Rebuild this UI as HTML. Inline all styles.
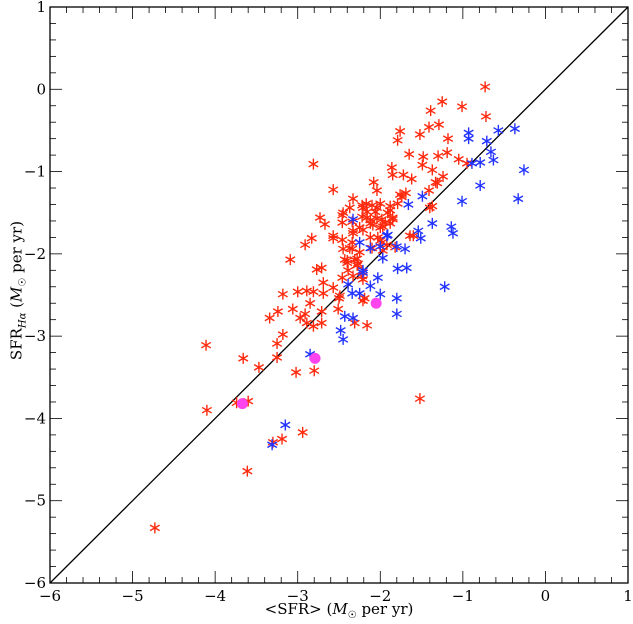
<!DOCTYPE html>
<html><head><meta charset="utf-8"><style>
html,body{margin:0;padding:0;background:#fff;}
svg{display:block;font-family:"DejaVu Serif","Liberation Serif",serif;}
</style></head><body>
<svg id="chart" width="633" height="624" viewBox="0 0 633 624" xmlns="http://www.w3.org/2000/svg"></svg>
<script>
const tickValues = [-6,-5,-4,-3,-2,-1,0,1];
const redX = [-0.73,-0.72,-1.01,-1.25,-1.39,-1.41,-1.29,-1.76,-1.79,-1.52,-1.18,-1.65,-2.81,-1.48,-1.49,-1.30,-1.19,-1.05,-0.95,-1.37,-1.24,-1.33,-1.86,-1.85,-1.72,-1.62,-2.08,-2.04,-2.57,-2.33,-1.74,-1.69,-1.79,-1.40,-1.41,-2.37,-2.21,-2.04,-1.88,-1.85,-2.73,-2.67,-2.46,-2.46,-2.16,-2.12,-1.94,-2.25,-2.33,-2.57,-2.83,-2.91,-1.60,-2.12,-3.09,-2.77,-2.71,-2.40,-2.28,-3.18,-3.00,-2.89,-2.81,-2.69,-2.57,-2.69,-2.85,-3.06,-3.24,-3.34,-2.97,-2.89,-2.81,-2.71,-2.51,-2.50,-2.19,-2.31,-2.16,-3.18,-3.25,-4.11,-3.66,-3.25,-3.47,-3.02,-2.80,-1.37,-1.31,-1.82,-2.00,-1.97,-4.10,-3.74,-3.60,-3.19,-3.30,-2.94,-3.61,-4.73,-1.52,-2.10,-2.40,-2.27,-2.46,-2.33,-2.22,-2.49,-2.21,-2.91,-2.71,-2.33,-2.10,-2.34,-2.45,-2.00,-1.88,-2.04,
 -2.22,-2.17,-2.00,-1.88,-2.16,-2.06,-1.91,-2.22,-2.12,-1.98,-1.85,-2.45,-2.34,-2.09,-1.97,-2.21,-2.57,-2.46,-2.34,-2.03,-1.98,-1.92,-1.64,-2.37,-2.25,-2.43,-2.31,-2.28,-2.39,-2.22,-2.21,-1.76];
const redY = [0.03,-0.33,-0.21,-0.15,-0.26,-0.46,-0.43,-0.51,-0.62,-0.55,-0.60,-0.79,-0.91,-0.82,-0.92,-0.81,-0.77,-0.85,-0.90,-0.98,-1.06,-1.13,-0.95,-1.04,-1.04,-1.09,-1.13,-1.23,-1.22,-1.33,-1.31,-1.26,-1.39,-1.44,-1.23,-1.44,-1.44,-1.44,-1.47,-1.56,-1.56,-1.64,-1.53,-1.62,-1.56,-1.63,-1.62,-1.68,-1.75,-1.78,-1.81,-1.89,-1.78,-1.80,-2.07,-2.19,-2.17,-2.08,-2.06,-2.49,-2.46,-2.45,-2.46,-2.35,-2.41,-2.48,-2.60,-2.67,-2.70,-2.78,-2.78,-2.84,-2.88,-2.84,-2.67,-2.54,-2.54,-2.84,-2.87,-2.98,-3.09,-3.11,-3.27,-3.26,-3.38,-3.44,-3.42,-1.42,-1.14,-1.92,-1.84,-1.96,-3.90,-3.81,-3.79,-4.25,-4.29,-4.17,-4.64,-5.33,-3.76,-1.41,-2.11,-2.12,-2.29,-2.27,-2.27,-2.51,-2.57,-2.73,-2.70,-1.72,-1.93,-1.94,-1.94,-1.68,-1.63,-1.57,
 -1.41,-1.39,-1.39,-1.42,-1.49,-1.49,-1.50,-1.55,-1.59,-1.58,-1.58,-1.50,-1.61,-1.65,-1.67,-1.71,-1.81,-1.83,-1.86,-1.80,-1.86,-1.89,-1.78,-1.93,-1.98,-2.07,-2.07,-2.14,-2.20,-2.22,-2.31,-1.28];
const blueX = [-0.93,-0.93,-0.57,-0.37,-0.71,-0.66,-0.63,-0.79,-0.89,-0.26,-0.79,-0.33,-1.01,-1.49,-1.66,-1.37,-1.14,-1.12,-1.54,-1.51,-1.70,-1.80,-1.68,-1.79,-1.97,-2.03,-2.12,-2.00,-1.80,-1.80,-1.22,-2.33,-2.25,-1.92,-2.00,-2.21,-2.39,-2.34,-2.25,-2.43,-2.33,-2.48,-2.45,-2.85,-3.15,-3.31,-1.91,-2.12,-2.21];
const blueY = [-0.53,-0.60,-0.50,-0.48,-0.63,-0.76,-0.86,-0.89,-0.90,-0.98,-1.17,-1.33,-1.36,-1.30,-1.40,-1.63,-1.67,-1.75,-1.72,-1.81,-1.94,-1.91,-2.17,-2.18,-2.05,-2.29,-2.39,-2.49,-2.54,-2.73,-2.40,-1.58,-1.86,-1.78,-1.91,-2.23,-2.37,-2.48,-2.48,-2.76,-2.78,-2.93,-3.04,-3.22,-4.08,-4.32,-1.77,-1.93,-2.20];
const magX = [-2.05,-2.79,-3.67];
const magY = [-2.60,-3.27,-3.82];

const NS='http://www.w3.org/2000/svg';
const svg=document.getElementById('chart');
const X0=50,X1=628,Y0=7,Y1=583,DMIN=-6,DMAX=1;
function sx(v){return X0+(v-DMIN)/(DMAX-DMIN)*(X1-X0);}
function sy(v){return Y1-(v-DMIN)/(DMAX-DMIN)*(Y1-Y0);}
function mk(tag,attrs,parent){const e=document.createElementNS(NS,tag);for(const k in attrs)e.setAttribute(k,attrs[k]);(parent||svg).appendChild(e);return e;}

const axes=mk('g',{});


for(let i=0;i<tickValues.length-1;i++){
  for(let m=1;m<5;m++){
    const v=tickValues[i]+m*0.2;
    mk('line',{x1:sx(v),x2:sx(v),y1:Y1,y2:Y1-6,stroke:'#000','stroke-width':0.8},axes);
    mk('line',{x1:sx(v),x2:sx(v),y1:Y0,y2:Y0+6,stroke:'#000','stroke-width':0.8},axes);
    mk('line',{x1:X0,x2:X0+6,y1:sy(v),y2:sy(v),stroke:'#000','stroke-width':0.8},axes);
    mk('line',{x1:X1,x2:X1-6,y1:sy(v),y2:sy(v),stroke:'#000','stroke-width':0.8},axes);
  }
}
tickValues.forEach(v=>{
  mk('line',{x1:sx(v),x2:sx(v),y1:Y1,y2:Y1-12,stroke:'#000','stroke-width':0.8},axes);
  mk('line',{x1:sx(v),x2:sx(v),y1:Y0,y2:Y0+12,stroke:'#000','stroke-width':0.8},axes);
  mk('line',{x1:X0,x2:X0+12,y1:sy(v),y2:sy(v),stroke:'#000','stroke-width':0.8},axes);
  mk('line',{x1:X1,x2:X1-12,y1:sy(v),y2:sy(v),stroke:'#000','stroke-width':0.8},axes);
  const lab=v<0?'\u2212'+Math.abs(v):String(v);
  const tx=mk('text',{x:sx(v),y:Y1+18,'text-anchor':'middle','font-size':15},axes);
  tx.textContent=lab;
  
  
  const ty=mk('text',{x:X0-4,y:sy(v)+5,'text-anchor':'end','font-size':15},axes);
  ty.textContent=lab;
  
  
});
const diag=mk('line',{x1:sx(DMIN),y1:sy(DMIN),x2:sx(DMAX),y2:sy(DMAX),stroke:'#000','stroke-width':1.3});



function star(x,y,color,g){
  const r=5.5,p=[];
  for(let k=0;k<3;k++){
    const a=Math.PI/2+k*Math.PI/3;
    p.push(`M${x+r*Math.cos(a)},${y-r*Math.sin(a)}L${x-r*Math.cos(a)},${y+r*Math.sin(a)}`);
  }
  const s=mk('path',{d:p.join(''),stroke:color,'stroke-width':1.4,fill:'none'},g);
  
  
}
const gr=mk('g',{});


redX.forEach((v,i)=>star(sx(v),sy(redY[i]),'#ff2a0e',gr));
const gb=mk('g',{});


blueX.forEach((v,i)=>star(sx(v),sy(blueY[i]),'#2233ff',gb));
const gm=mk('g',{});


magX.forEach((v,i)=>{
  const c=mk('circle',{cx:sx(v),cy:sy(magY[i]),r:5.5,fill:'#ff44ee'},gm);
  
  
});
const fr=mk('rect',{x:X0,y:Y0,width:X1-X0,height:Y1-Y0,fill:'none',stroke:'#000','stroke-width':1.3});


</script>
<div style="position:absolute;left:0;top:600px;width:633px;padding-left:45px;box-sizing:border-box;text-align:center;font:15px 'DejaVu Serif','Liberation Serif',serif;">&lt;SFR&gt; (<i>M</i><sub style="font-size:10px">☉</sub> per yr)</div>
<div style="position:absolute;left:-82px;top:280px;width:200px;text-align:center;transform:rotate(-90deg);font:15px 'DejaVu Serif','Liberation Serif',serif;">SFR<sub style="font-size:10px"><i>Hα</i></sub> (<i>M</i><sub style="font-size:10px">☉</sub> per yr)</div>
</body></html>
